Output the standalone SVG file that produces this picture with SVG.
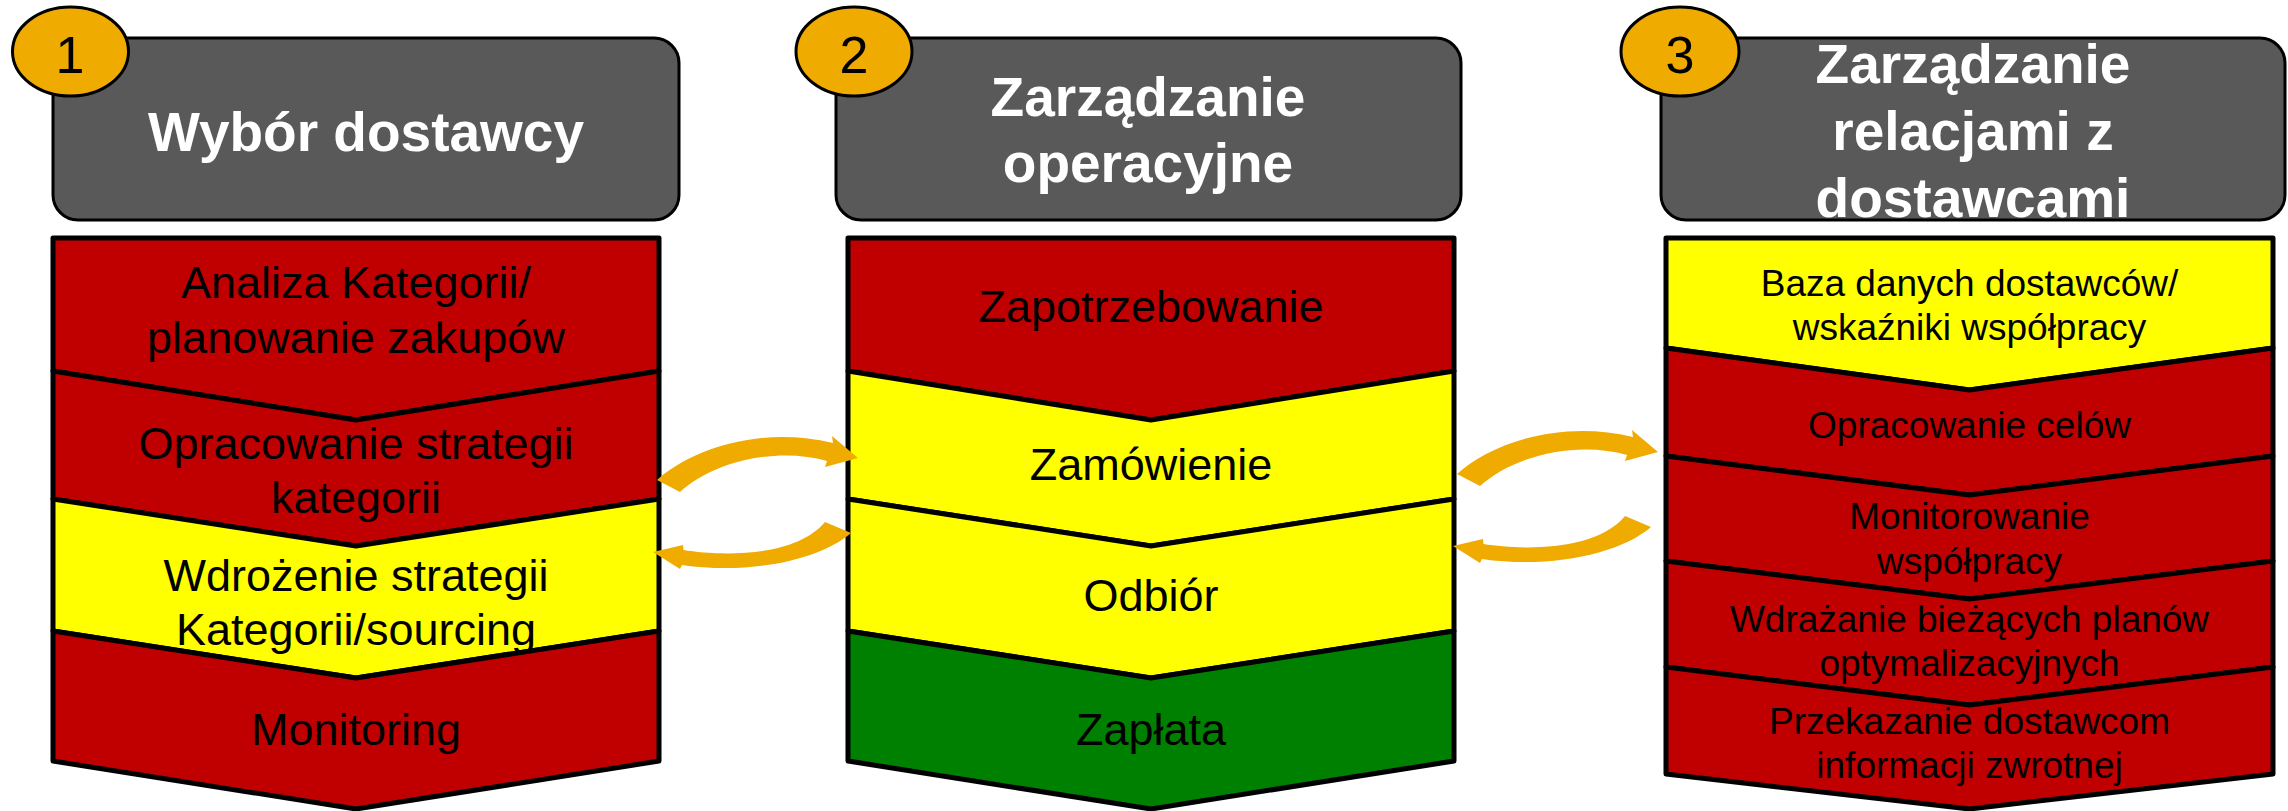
<svg xmlns="http://www.w3.org/2000/svg" width="2288" height="811" viewBox="0 0 2288 811">
<style>
.hdr{fill:#595959;stroke:#000;stroke-width:3}
.badge{fill:#F0AB00;stroke:#000;stroke-width:3}
.num{font-family:"Liberation Sans",Arial,sans-serif;font-size:52px;fill:#000;text-anchor:middle}
.ht{font-family:"Liberation Sans",Arial,sans-serif;font-size:55px;font-weight:bold;fill:#fff;text-anchor:middle}
.band{stroke:#000;stroke-width:5;stroke-linejoin:round}
.red{fill:#C00000}
.yel{fill:#FFFF00}
.grn{fill:#008000}
.bt{font-family:"Liberation Sans",Arial,sans-serif;font-size:45px;fill:#000;text-anchor:middle}
.bt3{font-family:"Liberation Sans",Arial,sans-serif;font-size:37px;fill:#000;text-anchor:middle}
.arr{fill:#F0AB00}
</style>
<defs>
<path id="arrUp" d="M657,480 C690,450 760,425 833,443 L832,436 L858,458 L825,467 L827,461 C780,447 715,460 680,492 Z"/>
<path id="arrDown" d="M851,533 C820,560 750,575 682,565 L680,569 L653,552 L683,545 L683.5,550 C720,556 795,558 825,522 Z"/>
</defs>

<!-- Header 1 -->
<g id="header-1">
<rect class="hdr" x="53" y="38" width="626" height="182" rx="25" ry="25"/>
<text class="ht" x="366" y="151">Wybór dostawcy</text>
</g>
<g id="badge-1">
<ellipse class="badge" cx="70.5" cy="51.5" rx="58" ry="44.5"/>
<text class="num" x="70" y="73">1</text>
</g>

<!-- Header 2 -->
<g id="header-2">
<rect class="hdr" x="836" y="38" width="625" height="182" rx="25" ry="25"/>
<text class="ht" x="1148" y="116">Zarządzanie</text>
<text class="ht" x="1148" y="182">operacyjne</text>
</g>
<g id="badge-2">
<ellipse class="badge" cx="854" cy="51.5" rx="58" ry="44.5"/>
<text class="num" x="854" y="73">2</text>
</g>

<!-- Header 3 -->
<g id="header-3">
<rect class="hdr" x="1661" y="38" width="624" height="182" rx="25" ry="25"/>
<text class="ht" x="1973" y="83">Zarządzanie</text>
<text class="ht" x="1973" y="150">relacjami z</text>
<text class="ht" x="1973" y="217">dostawcami</text>
</g>
<g id="badge-3">
<ellipse class="badge" cx="1680" cy="51.5" rx="59" ry="44.5"/>
<text class="num" x="1680" y="73">3</text>
</g>

<!-- Column 1 body -->
<g id="col1-analiza">
<polygon class="band red" points="53,238 659,238 659,371 356,420 53,371"/>
<text class="bt" x="356" y="298">Analiza Kategorii/</text>
<text class="bt" x="356" y="353">planowanie zakupów</text>
</g>
<g id="col1-strategia">
<polygon class="band red" points="53,371 356,420 659,371 659,499 356,546 53,499"/>
<text class="bt" x="356" y="459">Opracowanie strategii</text>
<text class="bt" x="356" y="513">kategorii</text>
</g>
<g id="col1-wdrozenie">
<polygon class="band yel" points="53,499 356,546 659,499 659,631 356,678 53,631"/>
<text class="bt" x="356" y="591">Wdrożenie strategii</text>
<text class="bt" x="356" y="645">Kategorii/sourcing</text>
</g>
<g id="col1-monitoring">
<polygon class="band red" points="53,631 356,678 659,631 659,761 356,809 53,761"/>
<text class="bt" x="356" y="745">Monitoring</text>
</g>

<!-- Column 2 body -->
<g id="col2-zapotrzebowanie">
<polygon class="band red" points="848,238 1454,238 1454,371 1151,420 848,371"/>
<text class="bt" x="1151" y="322">Zapotrzebowanie</text>
</g>
<g id="col2-zamowienie">
<polygon class="band yel" points="848,371 1151,420 1454,371 1454,499 1151,546 848,499"/>
<text class="bt" x="1151" y="480">Zamówienie</text>
</g>
<g id="col2-odbior">
<polygon class="band yel" points="848,499 1151,546 1454,499 1454,631 1151,678 848,631"/>
<text class="bt" x="1151" y="611">Odbiór</text>
</g>
<g id="col2-zaplata">
<polygon class="band grn" points="848,631 1151,678 1454,631 1454,761 1151,809 848,761"/>
<text class="bt" x="1151" y="745">Zapłata</text>
</g>

<!-- Column 3 body -->
<g id="col3-baza">
<polygon class="band yel" points="1666,238 2273,238 2273,348 1969.5,390 1666,348"/>
<text class="bt3" x="1969.5" y="296">Baza danych dostawców/</text>
<text class="bt3" x="1969.5" y="340">wskaźniki współpracy</text>
</g>
<g id="col3-cele">
<polygon class="band red" points="1666,348 1969.5,390 2273,348 2273,456 1969.5,495 1666,456"/>
<text class="bt3" x="1969.5" y="438">Opracowanie celów</text>
</g>
<g id="col3-monitorowanie">
<polygon class="band red" points="1666,456 1969.5,495 2273,456 2273,561 1969.5,599 1666,561"/>
<text class="bt3" x="1969.5" y="529">Monitorowanie</text>
<text class="bt3" x="1969.5" y="574">współpracy</text>
</g>
<g id="col3-wdrazanie">
<polygon class="band red" points="1666,561 1969.5,599 2273,561 2273,667 1969.5,705 1666,667"/>
<text class="bt3" x="1969.5" y="632">Wdrażanie bieżących planów</text>
<text class="bt3" x="1969.5" y="676">optymalizacyjnych</text>
</g>
<g id="col3-informacja">
<polygon class="band red" points="1666,667 1969.5,705 2273,667 2273,774 1969.5,809 1666,774"/>
<text class="bt3" x="1969.5" y="734">Przekazanie dostawcom</text>
<text class="bt3" x="1969.5" y="778">informacji zwrotnej</text>
</g>

<!-- Connectors -->
<g id="connectors">
<use href="#arrUp" class="arr"/>
<use href="#arrDown" class="arr"/>
<use href="#arrUp" class="arr" transform="translate(800,-6)"/>
<use href="#arrDown" class="arr" transform="translate(800,-6)"/>
</g>
</svg>
